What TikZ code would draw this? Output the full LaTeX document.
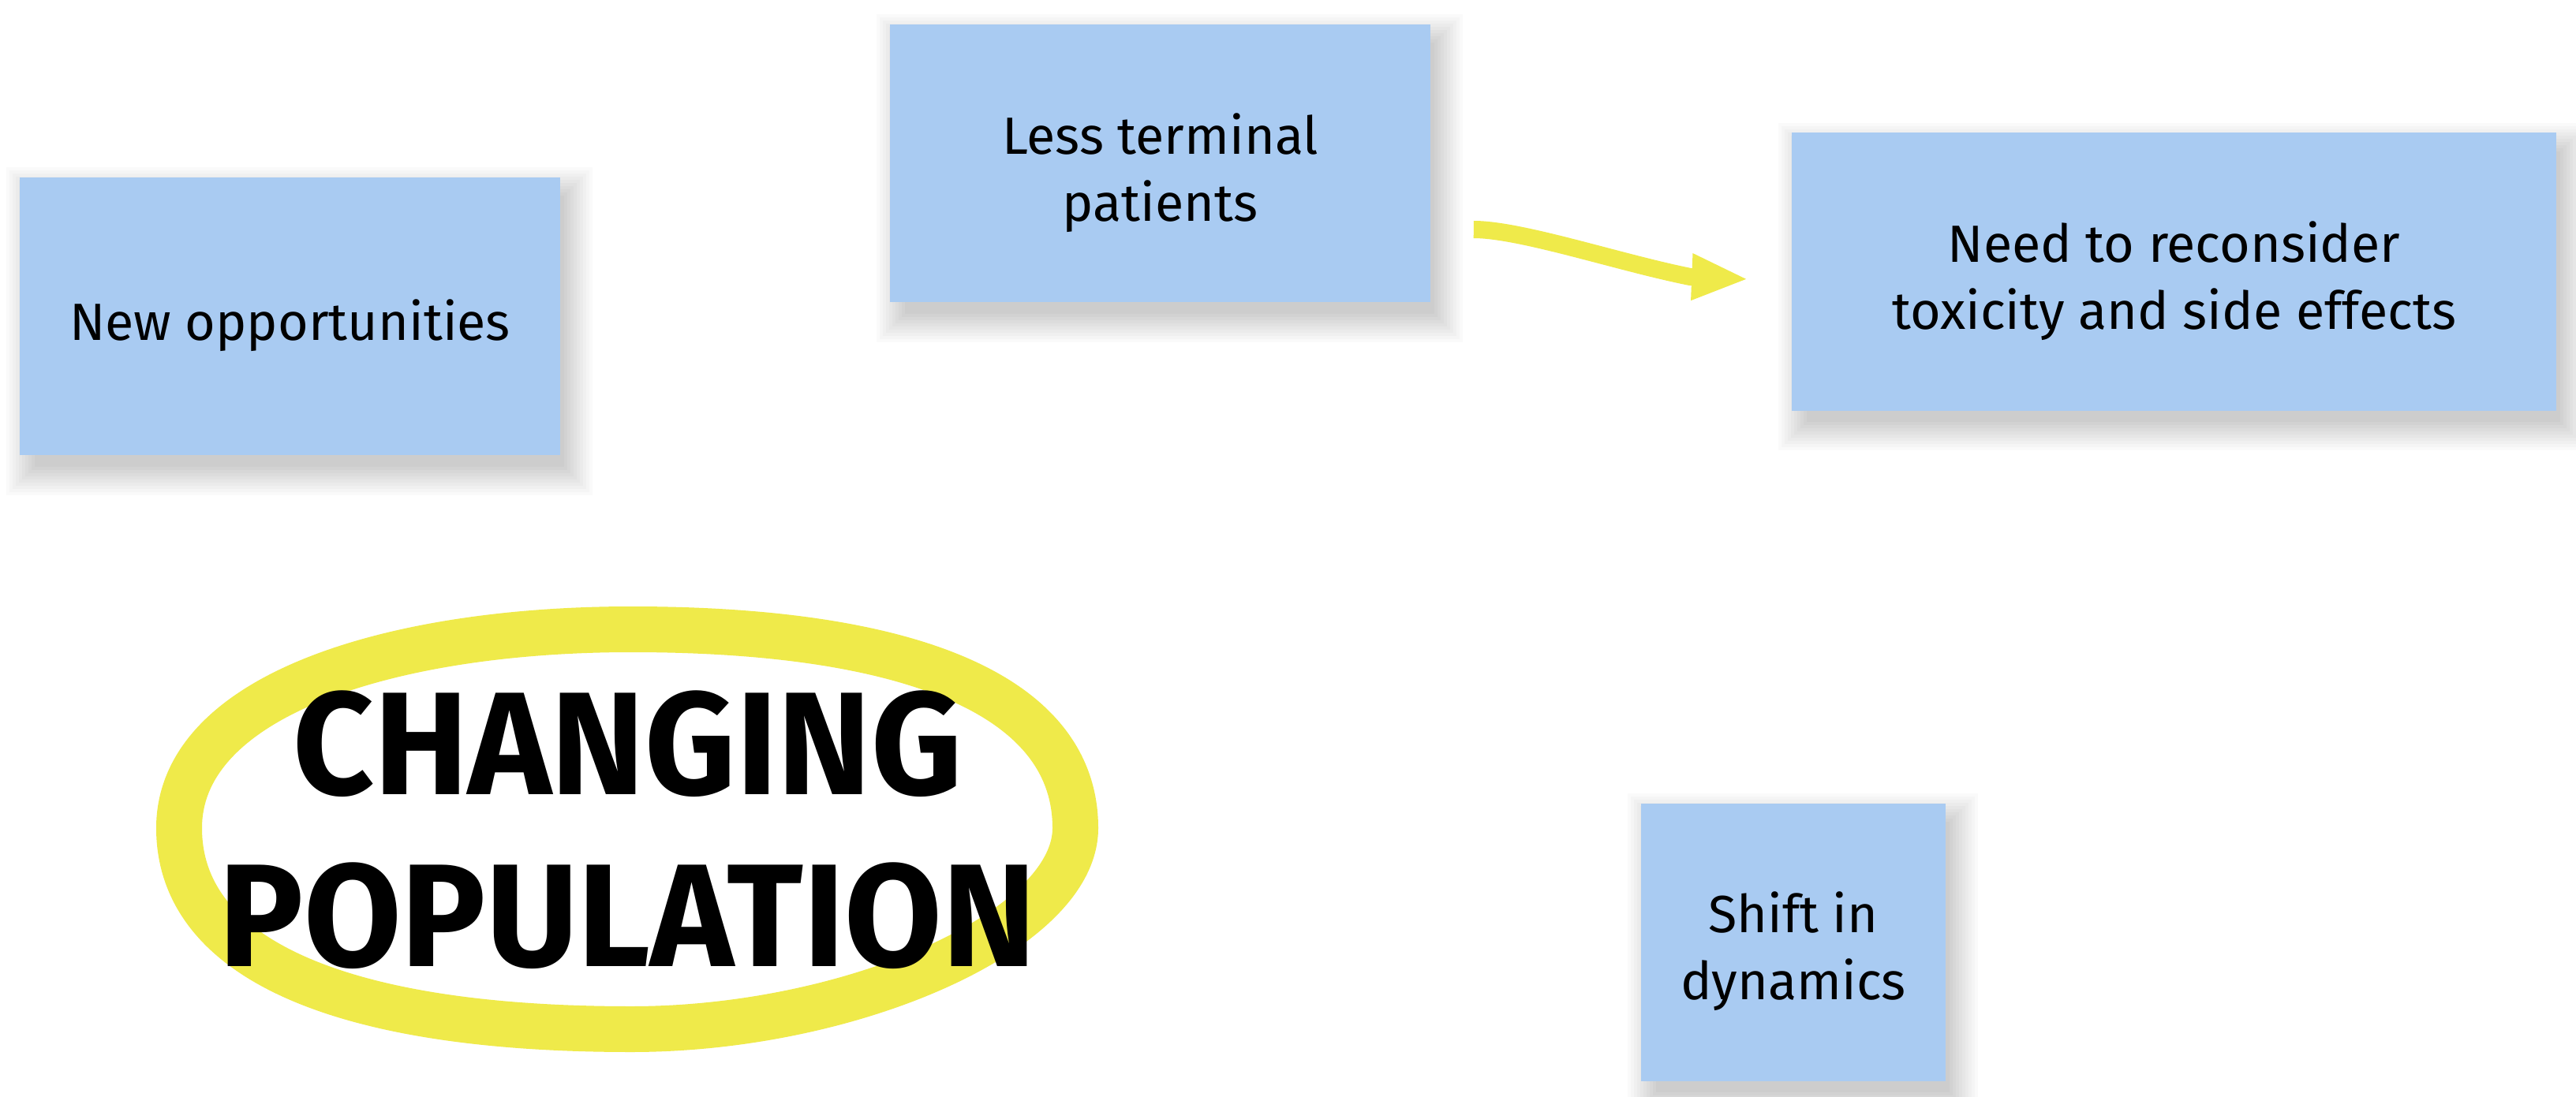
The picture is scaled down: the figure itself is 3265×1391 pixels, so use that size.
\documentclass[tikz,border=0pt]{standalone}
\usepackage{graphicx}
\usepackage{fontspec}
\setmainfont{Fira Sans}
\usetikzlibrary{positioning,calc,arrows.meta}
\definecolor{noteblue}{RGB}{169,203,242}
\definecolor{markyellow}{RGB}{239,234,74}
\newcommand\squeeze[1]{\scalebox{0.965}[1]{#1}}
\newcommand\lift{\rule{0pt}{19pt}}
\pgfdeclarelayer{paper}
\pgfdeclarelayer{shade}
\pgfsetlayers{paper,shade,main}

\begin{document}
\begin{tikzpicture}[x=0.25pt,y=-0.25pt,
  note/.style={rectangle, fill=noteblue, align=center, minimum height=88pt, inner sep=0pt,
    font=\fontsize{16.6}{21.25}\selectfont},
  bigword/.style={font=\fontsize{46.4}{46.4}\selectfont\bfseries, inner sep=0pt}]

\begin{pgfonlayer}{paper}
\fill[white] (0,0) rectangle (3265,1391);
\end{pgfonlayer}
\useasboundingbox (0,0) rectangle (3265,1391);

% sticky notes
\node[note, minimum width=171.25pt] (opp) at (367.5,401) {\lift New opportunities};
\node[note, minimum width=171.25pt] (less) at (1470.5,207) {\lift Less terminal\\patients};
\node[note, minimum width=242.25pt] (need) at (2755.5,344.5) {\lift Need to reconsider\\toxicity and side effects};
\node[note, minimum width=96.5pt] (shift) at (2273,1194.5) {\lift Shift in\\dynamics};

% soft shadows under the notes
\begin{pgfonlayer}{shade}
\foreach \n in {opp,less,need,shift}
  \foreach \k in {0,...,9}
    \fill[black, opacity=0.018] ($(\n.north west)+(20-4*\k,24-4*\k)$) rectangle ($(\n.south east)+(4+4*\k,14+4*\k)$);
\end{pgfonlayer}

% circled title
\draw[markyellow, line width=14.5pt] (800,798)
  .. controls (1150,798) and (1363,880) .. (1363,1050)
  .. controls (1363,1180) and (1080,1305) .. (800,1305)
  .. controls (430,1305) and (227,1215) .. (227,1050)
  .. controls (227,880) and (500,798) .. cycle;
\node[bigword, anchor=base] (chg) at (795.5,1007) {\squeeze{CHANGING}};
\node[bigword, anchor=base] (pop) at ($(chg.base)+(0,218)$) {\squeeze{POPULATION}};

% arrow
\coordinate (arrstart) at ($(less.east)+(54,84)$);
\draw[markyellow, line width=5.5pt, -{Triangle[length=18pt,width=13.5pt]}]
  (arrstart) .. controls +(60,0) and +(-90,-18) .. ($(need.west)+(-128,6.5)$)
  -- ($(need.west)+(-54,9.5)$);
\end{tikzpicture}
\end{document}
